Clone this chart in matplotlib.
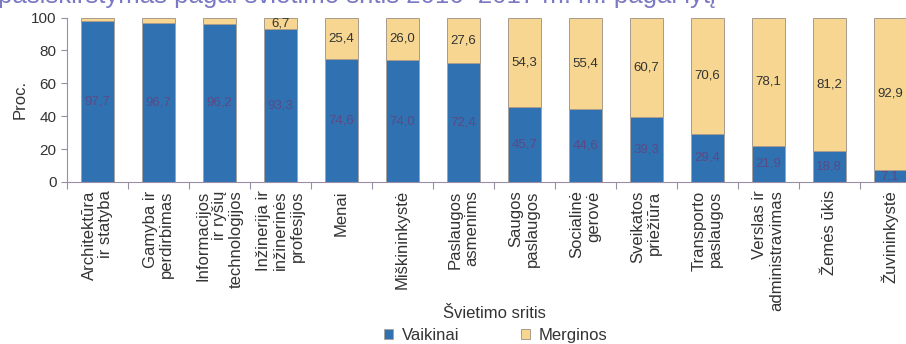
import matplotlib.pyplot as plt
import numpy as np

plt.rcParams["font.family"] = ["Liberation Sans", "DejaVu Sans"]

categories = [
    "Architektūra\nir statyba",
    "Gamyba ir\nperdirbimas",
    "Informacijos\nir ryšių\ntechnologijos",
    "Inžinerija ir\ninžinerinės\nprofesijos",
    "Menai",
    "Miškininkystė",
    "Paslaugos\nasmenims",
    "Saugos\npaslaugos",
    "Socialinė\ngerovė",
    "Sveikatos\npriežiūra",
    "Transporto\npaslaugos",
    "Verslas ir\nadministravimas",
    "Žemės ūkis",
    "Žuvininkystė",
]
vaikinai = [97.7, 96.7, 96.2, 93.3, 74.6, 74.0, 72.4, 45.7, 44.6, 39.3, 29.4, 21.9, 18.8, 7.1]
merginos = [2.3, 3.3, 3.8, 6.7, 25.4, 26.0, 27.6, 54.3, 55.4, 60.7, 70.6, 78.1, 81.2, 92.9]
yticks = [0, 20, 40, 60, 80, 100]

BLUE = "#3071b2"
YELLOW = "#f6d690"
EDGE = "#a99b8c"
AXIS = "#9a8ea6"
TEXT = "#333333"


def fmt(v):
    return f"{v:.1f}".replace(".", ",")


def main():
    fig = plt.figure(figsize=(9.06, 3.44), dpi=100)
    ax = fig.add_axes([0.074, 0.471, 0.942, 0.478])

    x = np.arange(len(categories))
    width = 0.54
    b1 = ax.bar(x, vaikinai, width, color=BLUE, edgecolor=EDGE, linewidth=0.5, label="Vaikinai")
    b2 = ax.bar(x, merginos, width, bottom=vaikinai, color=YELLOW, edgecolor=EDGE,
                linewidth=0.7, label="Merginos")

    for i in range(len(categories)):
        v, m = vaikinai[i], merginos[i]
        ax.text(x[i], v / 2, fmt(v), ha="center", va="center", fontsize=9.5, color="#5a4a85")
        if m >= 5:
            ax.text(x[i], v + m / 2, fmt(m), ha="center", va="center", fontsize=9.5, color=TEXT)

    ax.set_xlim(-0.5, len(categories) - 0.5)
    ax.set_ylim(0, 100)
    ax.set_yticks(yticks)
    ax.tick_params(axis="y", labelsize=11, colors=AXIS, labelcolor=TEXT, length=4, width=0.8)
    ax.set_xticks(x)
    ax.set_xticklabels(categories, rotation=90, fontsize=12, color=TEXT, linespacing=1.15,
                       ha="center", va="top", multialignment="right")
    ax.set_xticks(np.arange(-0.5, len(categories), 1), minor=True)
    ax.tick_params(axis="x", which="major", length=0, pad=6)
    ax.tick_params(axis="x", which="minor", length=5, width=0.8, colors=AXIS)
    for s in ["top", "right"]:
        ax.spines[s].set_visible(False)
    for s in ["left", "bottom"]:
        ax.spines[s].set_color(AXIS)
        ax.spines[s].set_linewidth(0.8)

    fig.text(0.022, 0.71, "Proc.", rotation=90, ha="center", va="center", fontsize=12, color=TEXT)
    fig.text(0.546, 0.09, "Švietimo sritis", ha="center", va="center", fontsize=12, color=TEXT)
    fig.legend(handles=[b1, b2], loc="center", bbox_to_anchor=(0.547, 0.026), ncols=2,
               frameon=False, fontsize=12, handlelength=0.55, handleheight=0.55,
               handletextpad=0.5, columnspacing=3.7, labelcolor=TEXT)
    # title is cut by the top edge in the original picture
    fig.text(-0.002, 0.99, "pasiskirstymas pagal švietimo sritis 2016–2017 m. m. pagal lytį",
             ha="left", va="baseline", fontsize=18.5, color="#7b79c4")

    fig.savefig("out.png", dpi=100)


if __name__ == "__main__":
    main()
